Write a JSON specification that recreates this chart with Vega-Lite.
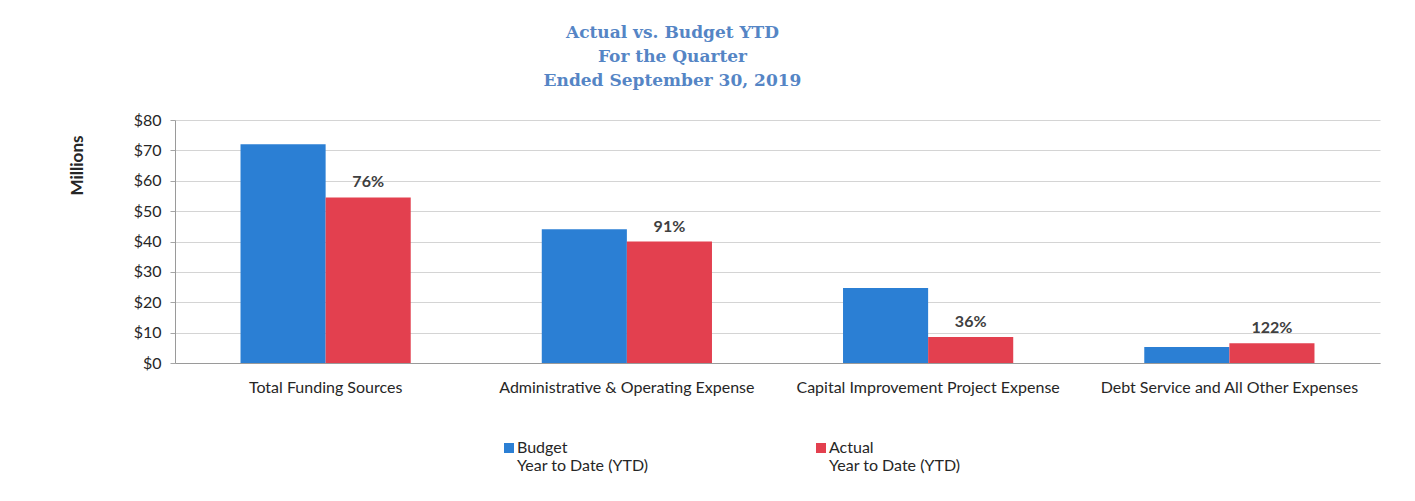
{
  "$schema": "https://vega.github.io/schema/vega-lite/v6.json",
  "autosize": "none",
  "width": 1205,
  "height": 243,
  "padding": {"left": 175, "top": 120, "right": 35, "bottom": 138},
  "background": "white",
  "title": {
    "text": ["Actual vs. Budget YTD", "For the Quarter", "Ended September 30, 2019"],
    "font": "DejaVu Serif",
    "fontSize": 17,
    "fontWeight": "bold",
    "color": "#5585c5",
    "lineHeight": 24,
    "anchor": "middle",
    "dx": -105,
    "offset": 22
  },
  "data": {
    "values": [
      {"category": "Total Funding Sources", "series": "Budget", "value": 72.0, "pct": ""},
      {"category": "Total Funding Sources", "series": "Actual", "value": 54.5, "pct": "76%"},
      {"category": "Administrative & Operating Expense", "series": "Budget", "value": 44.0, "pct": ""},
      {"category": "Administrative & Operating Expense", "series": "Actual", "value": 40.0, "pct": "91%"},
      {"category": "Capital Improvement Project Expense", "series": "Budget", "value": 24.7, "pct": ""},
      {"category": "Capital Improvement Project Expense", "series": "Actual", "value": 8.6, "pct": "36%"},
      {"category": "Debt Service and All Other Expenses", "series": "Budget", "value": 5.3, "pct": ""},
      {"category": "Debt Service and All Other Expenses", "series": "Actual", "value": 6.5, "pct": "122%"}
    ]
  },
  "encoding": {
    "x": {
      "field": "category",
      "type": "nominal",
      "sort": null,
      "scale": {"paddingInner": 0.435, "paddingOuter": 0.2175},
      "axis": {
        "title": null,
        "labelAngle": 0,
        "labelFont": "Lato",
        "labelFontSize": 16,
        "labelColor": "#262626",
        "labelPadding": 16,
        "ticks": false,
        "domainColor": "#9a9a9a",
        "labelLimit": 400
      }
    },
    "xOffset": {
      "field": "series",
      "type": "nominal",
      "sort": ["Budget", "Actual"],
      "scale": {"paddingInner": 0, "paddingOuter": 0}
    },
    "y": {
      "field": "value",
      "type": "quantitative",
      "scale": {"domain": [0, 80], "nice": false},
      "axis": {
        "title": "Millions",
        "titleFont": "Lato",
        "titleFontSize": 17,
        "titleFontWeight": "bold",
        "titleColor": "#262626",
        "titleAngle": -90,
        "titleX": -98,
        "titleY": 45,
        "titleAlign": "center",
        "titleBaseline": "middle",
        "values": [0, 10, 20, 30, 40, 50, 60, 70, 80],
        "labelExpr": "'$' + datum.value",
        "labelFont": "Lato",
        "labelFontSize": 16,
        "labelColor": "#262626",
        "labelPadding": 9,
        "tickSize": 5,
        "tickColor": "#a6a6a6",
        "domainColor": "#9a9a9a",
        "gridColor": "#d4d4d4",
        "grid": true
      }
    }
  },
  "layer": [
    {
      "mark": {"type": "bar"},
      "encoding": {
        "color": {
          "field": "series",
          "type": "nominal",
          "scale": {"domain": ["Budget", "Actual"], "range": ["#2b7fd4", "#e3404f"]},
          "legend": {
            "title": null,
            "orient": "none",
            "direction": "horizontal",
            "legendX": 326,
            "legendY": 320,
            "symbolType": "square",
            "symbolSize": 100,
            "symbolStrokeWidth": 0,
            "labelExpr": "[datum.label, 'Year to Date (YTD)']",
            "labelFont": "Lato",
            "labelFontSize": 16,
            "labelColor": "#262626",
            "labelLineHeight": 22,
            "labelBaseline": "middle",
            "labelOffset": 0,
            "columnPadding": 164
          }
        }
      }
    },
    {
      "transform": [{"filter": "datum.series === 'Actual'"}],
      "mark": {
        "type": "text",
        "font": "Lato",
        "fontSize": 16,
        "fontWeight": "bold",
        "color": "#404040",
        "baseline": "bottom",
        "dy": -7
      },
      "encoding": {
        "text": {"field": "pct"}
      }
    }
  ],
  "config": {
    "view": {"stroke": null}
  }
}
